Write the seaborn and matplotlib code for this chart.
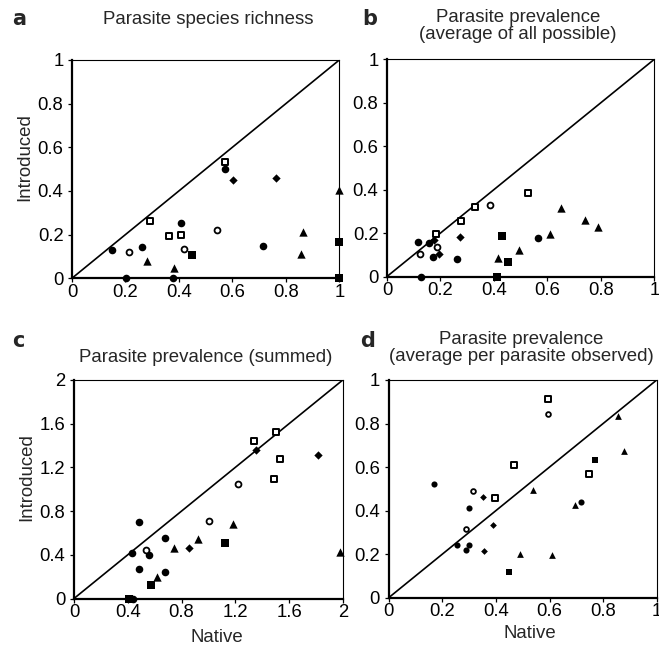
import matplotlib
matplotlib.use("Agg")
import matplotlib.pyplot as plt
import pandas as pd
import seaborn as sns

# ---------------- data ----------------
# marker groups: fc = filled circle, oc = open circle, os = open square,
#                fs = filled square, tr = triangle, di = diamond
a_native = [0.151, 0.201, 0.261, 0.376, 0.407, 0.574, 0.716,
            0.212, 0.419, 0.541,
            0.290, 0.363, 0.408, 0.574,
            0.449, 1.0, 1.0,
            0.281, 0.381, 0.865, 0.857, 1.0,
            0.604, 0.763]
a_introduced = [0.130, 0.0, 0.145, 0.0, 0.252, 0.502, 0.146,
                0.120, 0.136, 0.220,
                0.261, 0.195, 0.200, 0.534,
                0.108, 0.166, 0.0,
                0.081, 0.047, 0.212, 0.111, 0.405,
                0.451, 0.457]
a_group = ["fc"] * 7 + ["oc"] * 3 + ["os"] * 4 + ["fs"] * 3 + ["tr"] * 5 + ["di"] * 2

b_native = [0.117, 0.128, 0.158, 0.171, 0.263, 0.564,
            0.125, 0.188, 0.385,
            0.185, 0.276, 0.329, 0.526,
            0.430, 0.413, 0.451,
            0.414, 0.494, 0.610, 0.650, 0.741, 0.790,
            0.175, 0.195, 0.273]
b_introduced = [0.160, 0.0, 0.156, 0.089, 0.080, 0.176,
                0.103, 0.134, 0.331,
                0.197, 0.256, 0.320, 0.384,
                0.188, 0.0, 0.069,
                0.086, 0.123, 0.196, 0.317, 0.259, 0.226,
                0.168, 0.105, 0.180]
b_group = ["fc"] * 6 + ["oc"] * 3 + ["os"] * 4 + ["fs"] * 3 + ["tr"] * 6 + ["di"] * 3

c_native = [0.484, 0.434, 0.560, 0.484, 0.680, 0.675, 0.437,
            0.538, 1.007, 1.218,
            1.342, 1.500, 1.535, 1.488,
            0.573, 0.410, 1.126,
            0.620, 0.747, 0.920, 1.185, 1.980,
            0.853, 1.354, 1.818]
c_introduced = [0.698, 0.421, 0.396, 0.268, 0.552, 0.247, 0.0,
                0.442, 0.710, 1.049,
                1.442, 1.527, 1.280, 1.095,
                0.128, 0.0, 0.506,
                0.201, 0.466, 0.546, 0.683, 0.427,
                0.466, 1.360, 1.317]
c_group = ["fc"] * 7 + ["oc"] * 3 + ["os"] * 4 + ["fs"] * 3 + ["tr"] * 5 + ["di"] * 3

d_native = [0.168, 0.298, 0.256, 0.300, 0.290, 0.716,
            0.314, 0.288, 0.595,
            0.398, 0.466, 0.595, 0.746,
            0.450, 0.769,
            0.489, 0.537, 0.609, 0.694, 0.857, 0.877,
            0.351, 0.391, 0.356]
d_introduced = [0.521, 0.410, 0.242, 0.242, 0.219, 0.441,
                0.490, 0.314, 0.844,
                0.456, 0.611, 0.913, 0.570,
                0.116, 0.632,
                0.199, 0.495, 0.194, 0.426, 0.836, 0.674,
                0.461, 0.334, 0.216]
d_group = ["fc"] * 6 + ["oc"] * 3 + ["os"] * 4 + ["fs"] * 2 + ["tr"] * 6 + ["di"] * 3

titles = ["Parasite species richness",
          "Parasite prevalence\n(average of all possible)",
          "Parasite prevalence (summed)",
          "Parasite prevalence\n(average per parasite observed)"]
letters = ["a", "b", "c", "d"]
ticks_01 = [0, 0.2, 0.4, 0.6, 0.8, 1]
ticks_02 = [0, 0.4, 0.8, 1.2, 1.6, 2]

# ---------------- style ----------------
sns.set_style("ticks")
plt.rcParams["font.family"] = ["Liberation Sans", "DejaVu Sans"]
plt.rcParams["font.size"] = 13

W, H = 659, 647
fig = plt.figure(figsize=(W / 100, H / 100), dpi=100)


def add_axes(l, r, t, b):
    return fig.add_axes([l / W, 1 - b / H, (r - l) / W, (b - t) / H])


marker_style = {
    "fc": dict(marker="o", color="black", edgecolor="black", lw=0.0, s=30),
    "oc": dict(marker="o", color="white", edgecolor="black", lw=1.3, s=18),
    "os": dict(marker="s", color="white", edgecolor="black", lw=1.4, s=20),
    "fs": dict(marker="s", color="black", edgecolor="black", lw=0.0, s=28),
    "tr": dict(marker="^", color="black", edgecolor="black", lw=0.0, s=36),
    "di": dict(marker="D", color="black", edgecolor="black", lw=0.0, s=18),
}

panels = [
    (a_native, a_introduced, a_group, (72, 339.3, 60, 278.2), 1.0, ticks_01, 1.0),
    (b_native, b_introduced, b_group, (387, 654.3, 59.3, 276.5), 1.0, ticks_01, 1.0),
    (c_native, c_introduced, c_group, (74, 342.8, 380, 598.5), 2.0, ticks_02, 1.0),
    (d_native, d_introduced, d_group, (388.7, 656.7, 380, 597.7), 1.0, ticks_01, 0.65),
]

axes = []
for native, intro, group, box, lim, ticks, scale in panels:
    ax = add_axes(*box)
    axes.append(ax)
    df = pd.DataFrame({"native": native, "introduced": intro, "group": group})
    ax.axline((0, 0), slope=1, color="black", lw=1.2, zorder=2)
    for g, st in marker_style.items():
        sub = df[df["group"] == g]
        if sub.empty:
            continue
        kw = dict(st)
        kw["s"] = kw["s"] * scale
        sns.scatterplot(data=sub, x="native", y="introduced", ax=ax,
                        clip_on=False, zorder=5, legend=False, **kw)
    ax.set_xlim(0, lim)
    ax.set_ylim(0, lim)
    ax.set_xticks(ticks)
    ax.set_yticks(ticks)
    ax.set_xticklabels([f"{t:g}" for t in ticks])
    ax.set_yticklabels([f"{t:g}" for t in ticks])
    ax.set_xlabel("")
    ax.set_ylabel("")
    for side in ["left", "bottom"]:
        ax.spines[side].set_linewidth(1.6)
        ax.spines[side].set_color("black")
    for side in ["top", "right"]:
        ax.spines[side].set_linewidth(0.8)
        ax.spines[side].set_color("black")
    ax.tick_params(axis="both", direction="out", length=3.2, width=0.9,
                   colors="black", labelsize=13.3)
    ax.tick_params(axis="y", pad=3.0)
    ax.tick_params(axis="x", pad=0.8)

# titles (figure pixel positions)
title_pos = [(208, 11), (518, 9), (206, 349), (521, 331)]
for txt, (x, y) in zip(titles, title_pos):
    fig.text(x / W, 1 - y / H, txt, ha="center", va="top", fontsize=13.4,
             linespacing=1.0)

letter_pos = [(12, 25), (362, 25), (12, 347), (360, 347)]
for txt, (x, y) in zip(letters, letter_pos):
    fig.text(x / W, 1 - y / H, txt, ha="left", va="baseline", fontsize=15,
             fontweight="heavy", family=["DejaVu Sans"])

fig.text(25 / W, 1 - 157 / H, "Introduced", rotation=90, ha="center",
         va="center", fontsize=13.4)
fig.text(27 / W, 1 - 477 / H, "Introduced", rotation=90, ha="center",
         va="center", fontsize=13.4)
fig.text(217 / W, 1 - 637 / H, "Native", ha="center", va="center", fontsize=13.4)
fig.text(530 / W, 1 - 633 / H, "Native", ha="center", va="center", fontsize=13.4)

fig.savefig("out.png", dpi=100)
